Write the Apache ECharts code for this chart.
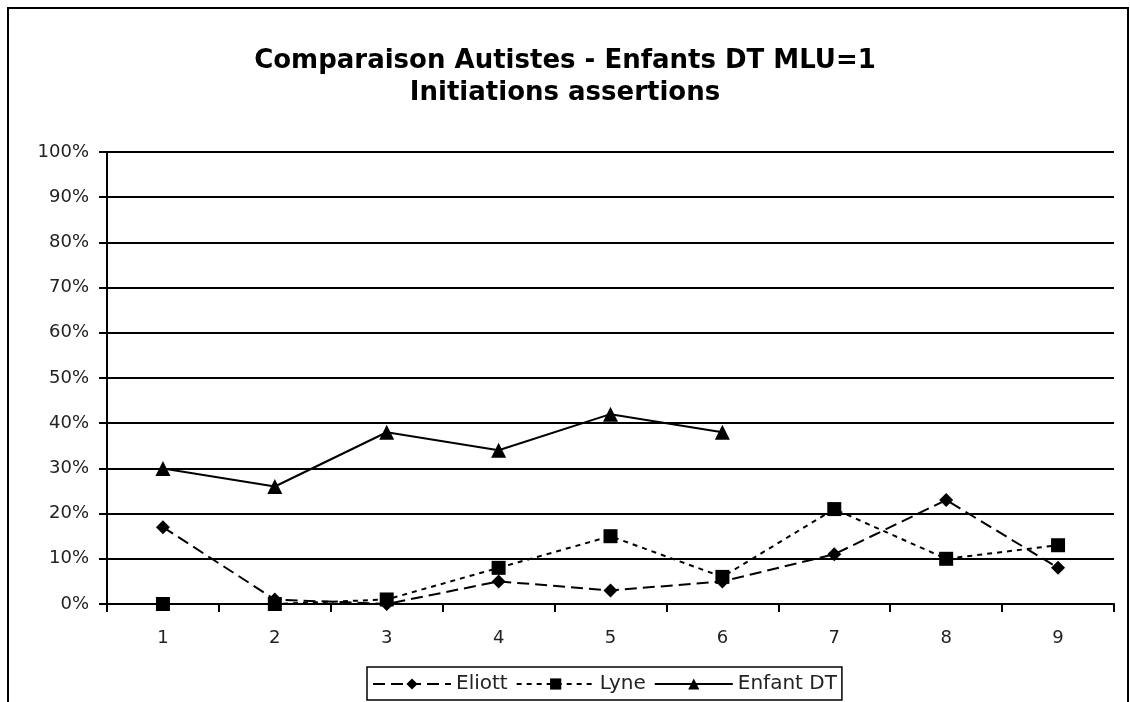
<!DOCTYPE html>
<html>
<head>
<meta charset="utf-8">
<script src="https://cdn.jsdelivr.net/npm/echarts@6/dist/echarts.min.js"></script>
<style>html,body{margin:0;padding:0;background:#fff}#c{width:1130px;height:702px}</style>
</head>
<body>
<div id="c"></div>
<script>
const categories = ['1','2','3','4','5','6','7','8','9'];
const eliott = [0.17, 0.01, 0.00, 0.05, 0.03, 0.05, 0.11, 0.23, 0.08];
const lyne = [0.00, 0.00, 0.01, 0.08, 0.15, 0.06, 0.21, 0.10, 0.13];
const enfantDT = [0.30, 0.26, 0.38, 0.34, 0.42, 0.38, null, null, null];
const titleLines = ['Comparaison Autistes - Enfants DT MLU=1', 'Initiations assertions'];

const chart = echarts.init(document.getElementById('c'));
const font = 'DejaVu Sans, Verdana, sans-serif';
chart.setOption({
  animation: false,
  backgroundColor: '#fff',
  graphic: [{
    type: 'rect', shape: {x: 8, y: 8, width: 1120, height: 720},
    style: {fill: 'none', stroke: '#000', lineWidth: 2}, z: -1
  }],
  title: {
    text: titleLines.join('\n'),
    left: 'center', top: 40,
    textStyle: {fontFamily: font, fontWeight: 'bold', fontSize: 26, color: '#000', lineHeight: 32}
  },
  legend: {
    top: 667, left: 367,
    borderColor: '#000', borderWidth: 1.5, padding: [7, 5, 6, 5],
    itemWidth: 78, itemHeight: 14, itemGap: 8,
    textStyle: {fontFamily: font, fontSize: 20, color: '#222'},
    data: ['Eliott', 'Lyne', 'Enfant DT']
  },
  grid: {left: 107, right: 16, top: 152, bottom: 98},
  xAxis: {
    type: 'category', data: categories, boundaryGap: true,
    axisLine: {lineStyle: {color: '#000', width: 2}},
    axisTick: {show: true, length: 8, lineStyle: {color: '#000', width: 2}},
    axisLabel: {margin: 25, fontFamily: font, fontSize: 18, color: '#222'}
  },
  yAxis: {
    type: 'value', min: 0, max: 1, interval: 0.1,
    axisLine: {show: true, lineStyle: {color: '#000', width: 2}},
    axisTick: {show: true, length: 8, lineStyle: {color: '#000', width: 2}},
    splitLine: {lineStyle: {color: '#000', width: 2}},
    axisLabel: {margin: 18, fontFamily: font, fontSize: 18, color: '#222',
      formatter: v => Math.round(v * 100) + '%'}
  },
  series: [
    {name: 'Eliott', type: 'line', data: eliott, symbol: 'diamond', symbolSize: 14,
      itemStyle: {color: '#000'}, lineStyle: {color: '#000', width: 2, type: [12, 6]}},
    {name: 'Lyne', type: 'line', data: lyne, symbol: 'rect', symbolSize: 14,
      itemStyle: {color: '#000'}, lineStyle: {color: '#000', width: 2, type: [5, 5]}},
    {name: 'Enfant DT', type: 'line', data: enfantDT, symbol: 'triangle', symbolSize: 15,
      itemStyle: {color: '#000'}, lineStyle: {color: '#000', width: 2, type: 'solid'}}
  ]
});
</script>
</body>
</html>
